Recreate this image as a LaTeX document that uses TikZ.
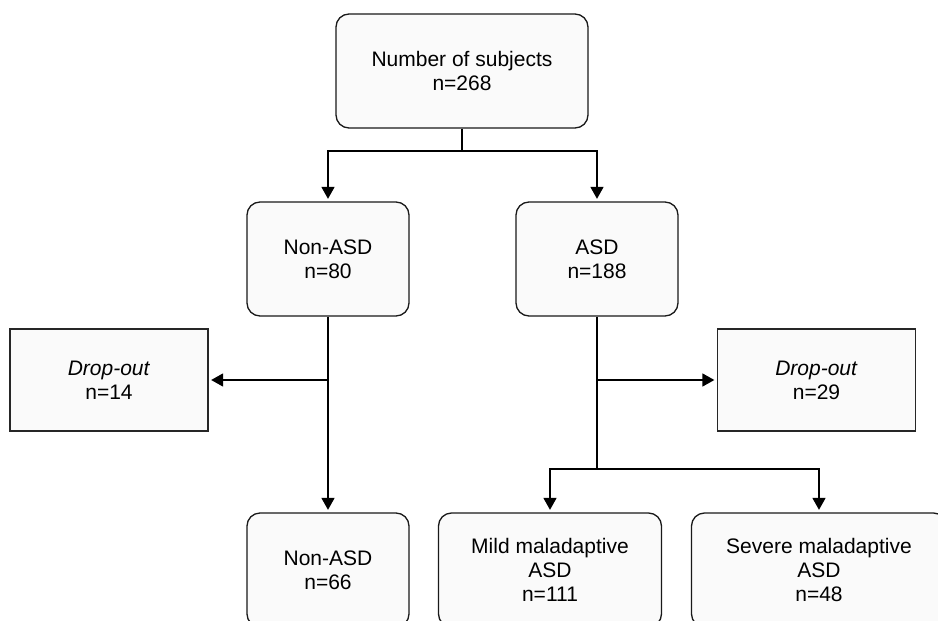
\documentclass[tikz,border=0pt]{standalone}
\usepackage{fontspec}
\setmainfont{Liberation Sans}
\usetikzlibrary{arrows.meta,calc}
\begin{document}
\begin{tikzpicture}[x=1pt,y=-1pt,
  every node/.style={font=\fontsize{21}{24}\selectfont, align=center},
  rbox/.style={draw=black!90, fill=black!2, line width=1.3pt, rounded corners=13pt, minimum height=114pt, inner sep=0pt},
  sbox/.style={draw=black!85, fill=black!2, line width=1.3pt, minimum width=198pt, minimum height=102pt, inner sep=0pt},
  conn/.style={draw=black, line width=1.6pt},
  arr/.style={conn, -{Triangle[length=12pt,width=13pt]}, shorten >=2.5pt}
]
\useasboundingbox (0,0) rectangle (938,621);
\clip (0,0) rectangle (938,621);
\fill[white] (0,0) rectangle (938,621);

\node[rbox, minimum width=252pt] (top) at (462,71) {Number of subjects\\n=268};
\node[rbox, minimum width=162pt] (nonasd) at (328,259) {Non-ASD\\n=80};
\node[rbox, minimum width=162pt] (asd) at (597,259) {ASD\\n=188};
\node[sbox] (dropL) at (109,380) {\textit{Drop-out}\\n=14};
\node[sbox] (dropR) at (816.5,380) {\textit{Drop-out}\\n=29};
\node[rbox, minimum width=162pt] (nonasd2) at (328,570) {Non-ASD\\n=66};
\node[rbox, minimum width=223pt] (mild) at (550,570) {Mild maladaptive\\ASD\\n=111};
\node[rbox, minimum width=255pt] (severe) at (819,570) {Severe maladaptive\\ASD\\n=48};

\coordinate (s1) at (462,151);
\coordinate (s2) at (597,469);

\draw[conn] (top.south) -- (s1);
\draw[arr] (s1) -| (nonasd.north);
\draw[arr] (s1) -| (asd.north);

\draw[arr] (nonasd.south) -- (nonasd2.north);
\draw[arr] (nonasd.south |- dropL.east) -- (dropL.east);

\draw[conn] (asd.south) -- (s2);
\draw[arr] (asd.south |- dropR.west) -- (dropR.west);
\draw[arr] (s2) -| (mild.north);
\draw[arr] (s2) -| (severe.north);
\end{tikzpicture}
\end{document}
